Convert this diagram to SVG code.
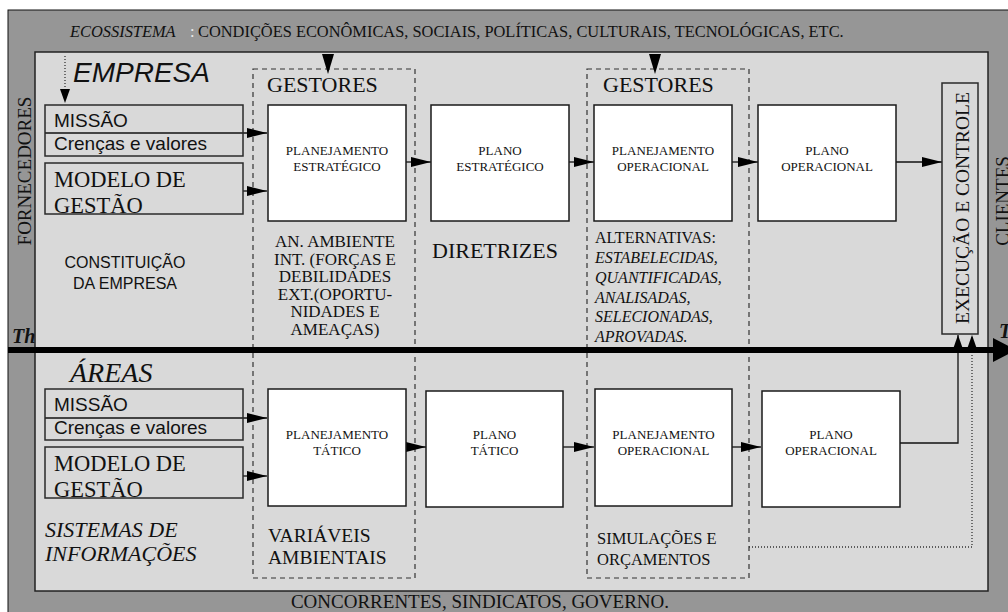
<svg xmlns="http://www.w3.org/2000/svg" width="1008" height="612" viewBox="0 0 1008 612">
<defs>
<marker id="arr" viewBox="0 0 20 10" refX="20" refY="5" markerWidth="20" markerHeight="10" markerUnits="userSpaceOnUse" orient="auto"><path d="M0,0 L20,5 L0,10 Z" fill="#000"/></marker>
<marker id="arrV" viewBox="0 0 17 12" refX="17" refY="6" markerWidth="17" markerHeight="12" markerUnits="userSpaceOnUse" orient="auto"><path d="M0,0 L17,6 L0,12 Z" fill="#000"/></marker>
<style>
.box{fill:#fff;stroke:#1a1a1a;stroke-width:1.5}
.obox{fill:none;stroke:#2a2a2a;stroke-width:1.5}
.dash{fill:none;stroke:#333;stroke-width:1.2;stroke-dasharray:5 4}
.conn{fill:none;stroke:#111;stroke-width:1.3}
.dot{fill:none;stroke:#333;stroke-width:1.3;stroke-dasharray:1 2}
.serif{font-family:"Liberation Serif","Times New Roman",serif;fill:#111}
.sans{font-family:"Liberation Sans",Arial,sans-serif;fill:#111}
.bt{font-size:13px;text-anchor:middle}
.it{font-style:italic}
</style>
</defs>
<rect x="0" y="0" width="1008" height="612" fill="#fff"/>
<g id="background">
<rect x="8" y="10" width="1010" height="612" fill="#969696" stroke="#111" stroke-width="1"/>
<rect x="35" y="52" width="953" height="539" fill="#d9d9d9" stroke="#222" stroke-width="1.5"/>
</g>
<g id="labels-outer">
<text class="serif it" x="70" y="37" font-size="16.4">ECOSSISTEMA</text>
<text class="serif" x="190" y="37" font-size="16.4" style="fill:#eeeeee">:</text>
<text class="serif" x="198" y="37" font-size="16.4">CONDIÇÕES ECONÔMICAS, SOCIAIS, POLÍTICAS, CULTURAIS, TECNOLÓGICAS, ETC.</text>
<text class="serif" transform="translate(31,171) rotate(-90)" text-anchor="middle" font-size="19">FORNECEDORES</text>
<text class="serif" transform="translate(1009,201) rotate(-90)" text-anchor="middle" font-size="19">CLIENTES</text>
<text class="serif" x="480" y="608" text-anchor="middle" font-size="19">CONCORRENTES, SINDICATOS, GOVERNO.</text>
</g>
<g id="gestores1">
<rect class="dash" x="253" y="69" width="162" height="509"/>
<text class="serif" x="267" y="92" font-size="22">GESTORES</text>
</g>
<g id="gestores2">
<rect class="dash" x="587" y="69" width="162" height="509"/>
<text class="serif" x="603" y="92" font-size="22">GESTORES</text>
</g>
<g id="connectors">
<path class="dot" d="M65,56 V90"/>
<polygon points="60,89 70,89 65,103" fill="#000"/>
<polygon points="322,54 334,54 328,74" fill="#000"/>
<polygon points="649,54 661,54 655,74" fill="#000"/>
<line class="conn" x1="45" y1="133" x2="267" y2="133" marker-end="url(#arr)"/>
<line class="conn" x1="243" y1="191" x2="267" y2="191" marker-end="url(#arr)"/>
<line class="conn" x1="406" y1="162" x2="431" y2="162" marker-end="url(#arr)"/>
<line class="conn" x1="569" y1="162" x2="594" y2="162" marker-end="url(#arr)"/>
<line class="conn" x1="732" y1="162" x2="758" y2="162" marker-end="url(#arr)"/>
<line class="conn" x1="896" y1="162" x2="942" y2="162" marker-end="url(#arr)"/>
<line class="conn" x1="45" y1="418" x2="267" y2="418" marker-end="url(#arr)"/>
<line class="conn" x1="243" y1="476" x2="267" y2="476" marker-end="url(#arr)"/>
<line class="conn" x1="406" y1="447" x2="426" y2="447" marker-end="url(#arr)"/>
<line class="conn" x1="563" y1="447" x2="594" y2="447" marker-end="url(#arr)"/>
<line class="conn" x1="732" y1="447" x2="761" y2="447" marker-end="url(#arr)"/>
<path class="conn" d="M900,443 H958 V335" marker-end="url(#arrV)"/>
<path class="dot" d="M749,547 H972 V335" marker-end="url(#arrV)"/>
<line x1="8" y1="350" x2="996" y2="350" stroke="#000" stroke-width="6"/>
<polygon points="993,338 1016,350 993,362" fill="#000"/>
</g>
<g id="empresa">
<text class="sans it" x="73" y="82" font-size="28">EMPRESA</text>
<text class="serif" x="12" y="343" font-size="20" font-weight="bold" font-style="italic">Th</text>
<text class="serif" x="999" y="338" font-size="20" font-weight="bold" font-style="italic">T</text>
</g>
<g id="missao1">
<rect class="obox" x="45" y="105" width="198" height="51"/>
<text class="sans" x="54" y="127" font-size="19">MISSÃO</text>
<text class="sans" x="54" y="150" font-size="19">Crenças e valores</text>
</g>
<g id="modelo1">
<rect class="obox" x="45" y="163" width="198" height="51"/>
<text class="serif" x="54" y="187" font-size="22.5">MODELO DE</text>
<text class="serif" x="54" y="213" font-size="22.5">GESTÃO</text>
</g>
<g id="constituicao">
<text class="sans" x="125" y="268" text-anchor="middle" font-size="16"><tspan x="125">CONSTITUIÇÃO</tspan><tspan x="125" dy="21">DA EMPRESA</tspan></text>
</g>
<g id="plan-estrategico">
<rect class="box" x="268" y="105" width="138" height="116"/>
<text class="serif bt" x="337" y="155"><tspan x="337">PLANEJAMENTO</tspan><tspan x="337" dy="16">ESTRATÉGICO</tspan></text>
</g>
<g id="plano-estrategico">
<rect class="box" x="431" y="105" width="138" height="116"/>
<text class="serif bt" x="500" y="155"><tspan x="500">PLANO</tspan><tspan x="500" dy="16">ESTRATÉGICO</tspan></text>
</g>
<g id="plan-operacional1">
<rect class="box" x="594" y="105" width="138" height="116"/>
<text class="serif bt" x="663" y="155"><tspan x="663">PLANEJAMENTO</tspan><tspan x="663" dy="16">OPERACIONAL</tspan></text>
</g>
<g id="plano-operacional1">
<rect class="box" x="758" y="105" width="138" height="116"/>
<text class="serif bt" x="827" y="155"><tspan x="827">PLANO</tspan><tspan x="827" dy="16">OPERACIONAL</tspan></text>
</g>
<g id="execucao">
<rect class="obox" x="942" y="83" width="36" height="251" fill="none"/>
<text class="serif" transform="translate(969,208) rotate(-90)" text-anchor="middle" font-size="19.5">EXECUÇÃO E CONTROLE</text>
</g>
<g id="ambiente">
<text class="serif" x="335" y="247" text-anchor="middle" font-size="17"><tspan x="335">AN. AMBIENTE</tspan><tspan x="335" dy="17.6">INT. (FORÇAS E</tspan><tspan x="335" dy="17.6">DEBILIDADES</tspan><tspan x="335" dy="17.6">EXT.(OPORTU-</tspan><tspan x="335" dy="17.6">NIDADES E</tspan><tspan x="335" dy="17.6">AMEAÇAS)</tspan></text>
</g>
<g id="diretrizes">
<text class="serif" x="495" y="258" text-anchor="middle" font-size="22">DIRETRIZES</text>
</g>
<g id="alternativas">
<text class="serif" x="595" y="243" font-size="16">ALTERNATIVAS:</text>
<text class="serif it" x="595" y="263" font-size="16"><tspan x="595">ESTABELECIDAS,</tspan><tspan x="595" dy="19.8">QUANTIFICADAS,</tspan><tspan x="595" dy="19.8">ANALISADAS,</tspan><tspan x="595" dy="19.8">SELECIONADAS,</tspan><tspan x="595" dy="19.8">APROVADAS.</tspan></text>
</g>
<g id="areas">
<text class="serif it" x="70" y="382" font-size="28">ÁREAS</text>
</g>
<g id="missao2">
<rect class="obox" x="45" y="389" width="198" height="51"/>
<text class="sans" x="54" y="411" font-size="19">MISSÃO</text>
<text class="sans" x="54" y="434" font-size="19">Crenças e valores</text>
</g>
<g id="modelo2">
<rect class="obox" x="45" y="447" width="198" height="51"/>
<text class="serif" x="54" y="471" font-size="22.5">MODELO DE</text>
<text class="serif" x="54" y="497" font-size="22.5">GESTÃO</text>
</g>
<g id="sistemas">
<text class="serif it" x="45" y="537" font-size="22"><tspan x="45">SISTEMAS DE</tspan><tspan x="45" dy="24">INFORMAÇÕES</tspan></text>
</g>
<g id="plan-tatico">
<rect class="box" x="268" y="389" width="138" height="117"/>
<text class="serif bt" x="337" y="439"><tspan x="337">PLANEJAMENTO</tspan><tspan x="337" dy="16">TÁTICO</tspan></text>
</g>
<g id="plano-tatico">
<rect class="box" x="426" y="391" width="137" height="116"/>
<text class="serif bt" x="494.5" y="439"><tspan x="494.5">PLANO</tspan><tspan x="494.5" dy="16">TÁTICO</tspan></text>
</g>
<g id="plan-operacional2">
<rect class="box" x="595" y="389" width="137" height="117"/>
<text class="serif bt" x="663.5" y="439"><tspan x="663.5">PLANEJAMENTO</tspan><tspan x="663.5" dy="16">OPERACIONAL</tspan></text>
</g>
<g id="plano-operacional2">
<rect class="box" x="762" y="391" width="138" height="116"/>
<text class="serif bt" x="831" y="439"><tspan x="831">PLANO</tspan><tspan x="831" dy="16">OPERACIONAL</tspan></text>
</g>
<g id="variaveis">
<text class="serif" x="268" y="542" font-size="19.5"><tspan x="268">VARIÁVEIS</tspan><tspan x="268" dy="22">AMBIENTAIS</tspan></text>
</g>
<g id="simulacoes">
<text class="serif" x="597" y="544" font-size="16.5"><tspan x="597">SIMULAÇÕES E</tspan><tspan x="597" dy="21">ORÇAMENTOS</tspan></text>
</g>
</svg>
